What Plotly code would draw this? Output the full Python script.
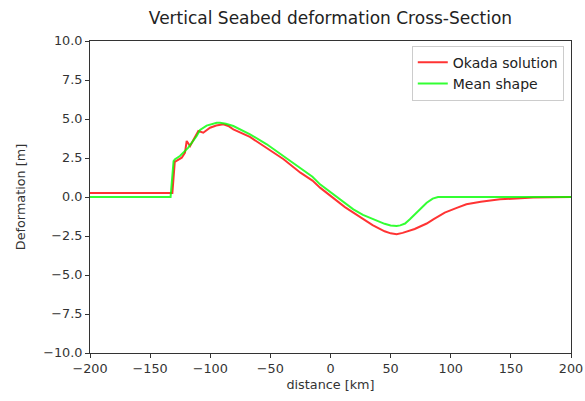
import plotly.graph_objects as go

okada_x = [-200, -131.5, -129.5, -127.9, -123.7, -121, -119.6, -116.8, -113.5, -109.9, -105.8, -100.2, -95, -89.1, -85, -80.8, -67, -53, -39, -25, -15, -8.7, 0, 5.2, 12, 19, 27.3, 35, 45, 50, 55, 60, 70, 80, 85.5, 95, 105, 113, 125, 141, 168.6, 200]
okada_y = [0.25, 0.25, 2.25, 2.31, 2.52, 2.84, 3.59, 3.27, 3.7, 4.23, 4.12, 4.44, 4.58, 4.66, 4.55, 4.34, 3.85, 3.16, 2.42, 1.56, 1.05, 0.6, 0.05, -0.26, -0.65, -1.0, -1.43, -1.8, -2.2, -2.33, -2.38, -2.3, -2.05, -1.7, -1.43, -1.0, -0.7, -0.47, -0.3, -0.15, -0.04, 0.0]

mean_x = [-200, -133, -130.5, -129.3, -125.2, -118.3, -111.3, -108.5, -103, -98, -94.6, -91.9, -87, -80.8, -66.9, -53, -39.2, -25, -15, -8.7, 0, 5.2, 12, 19, 27, 33, 40, 45, 50, 55, 58, 62, 66, 72, 80, 85, 89.4, 120, 200]
mean_y = [0.0, 0.0, 2.3, 2.42, 2.63, 3.16, 3.91, 4.3, 4.58, 4.7, 4.76, 4.76, 4.7, 4.55, 4.02, 3.38, 2.63, 1.85, 1.3, 0.81, 0.3, -0.04, -0.42, -0.79, -1.15, -1.35, -1.6, -1.72, -1.82, -1.86, -1.82, -1.7, -1.43, -0.95, -0.37, -0.1, 0.0, 0.0, 0.0]

x_ticks = [-200, -150, -100, -50, 0, 50, 100, 150, 200]
y_ticks = [-10, -7.5, -5, -2.5, 0, 2.5, 5, 7.5, 10]

fig = go.Figure()
fig.add_trace(go.Scatter(x=okada_x, y=okada_y, mode="lines", name="Okada solution",
                         line=dict(color="rgba(255,0,0,0.8)", width=2)))
fig.add_trace(go.Scatter(x=mean_x, y=mean_y, mode="lines", name="Mean shape",
                         line=dict(color="rgba(0,255,0,0.8)", width=2)))

axis_common = dict(showgrid=False, zeroline=False, showline=True, linecolor="#333333", linewidth=1,
                   mirror=True, ticks="outside", ticklen=4, tickcolor="#333333", automargin=False,
                   tickfont=dict(size=12.8, color="#333333"))
fig.update_layout(
    width=585, height=401,
    margin=dict(l=90, r=14, t=41, b=48),
    paper_bgcolor="white", plot_bgcolor="white",
    font=dict(family="DejaVu Sans", color="#333333"),
    title=dict(text="Vertical Seabed deformation Cross-Section", x=0.5, xref="paper", xanchor="center",
               y=0.955, yanchor="middle", font=dict(size=17, color="#222222")),
    xaxis=dict(range=[-200, 200], tickvals=x_ticks, ticktext=[str(v).replace("-", "−") for v in x_ticks],
               title=dict(text="distance [km]", font=dict(size=12.8), standoff=4), **axis_common),
    yaxis=dict(range=[-10, 10], tickvals=y_ticks, ticktext=[f"{v:.1f}".replace("-", "−") for v in y_ticks],
               title=dict(text="Deformation [m]", font=dict(size=12.8), standoff=14), **axis_common),
    legend=dict(x=0.985, y=0.985, xanchor="right", yanchor="top", bgcolor="white",
                bordercolor="#cccccc", borderwidth=1, font=dict(size=14, color="#222222")),
    showlegend=True,
)
fig.write_html("out.html", config={"displayModeBar": False},
               post_script="document.body.style.margin='0';document.body.style.overflow='hidden';")
